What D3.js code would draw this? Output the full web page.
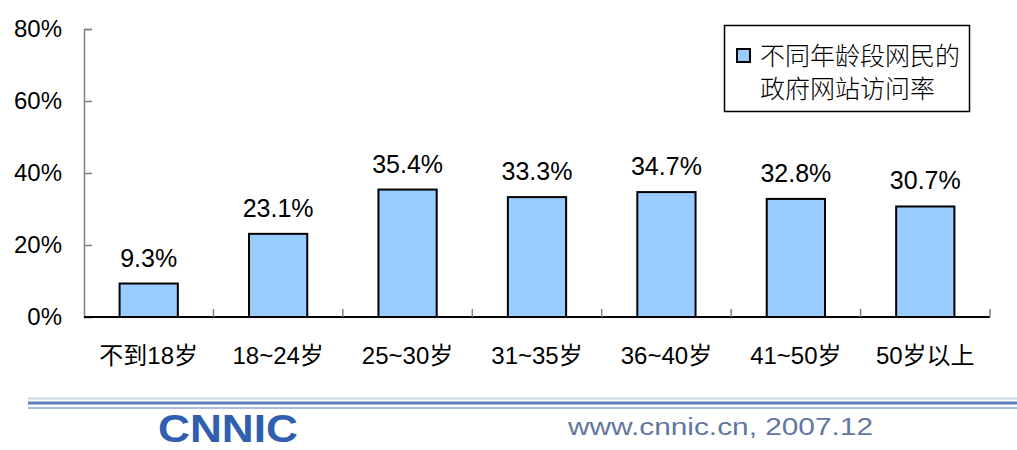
<!DOCTYPE html>
<html><head><meta charset="utf-8">
<script src="https://cdn.jsdelivr.net/npm/d3@7"></script>
<style>
html,body{margin:0;padding:0;background:#fff;}
svg{display:block;}
text{font-family:"Liberation Sans","Noto Sans CJK SC",Arial,sans-serif;fill:#000;}
</style></head>
<body>
<svg id="chart" width="1017" height="450"></svg>
<script>
const categories = ["不到18岁","18~24岁","25~30岁","31~35岁","36~40岁","41~50岁","50岁以上"];
const values = [9.3, 23.1, 35.4, 33.3, 34.7, 32.8, 30.7];
const yTicks = [0, 20, 40, 60, 80];
const legendLines = ["不同年龄段网民的","政府网站访问率"];
const footerText = "www.cnnic.cn,  2007.12";
const logoText = "CNNIC";

const svg = d3.select("#chart");
const x0 = 84, x1 = 990, yTop = 29, yBot = 317;

const x = d3.scaleBand().domain(categories).range([x0, x1]).paddingInner(0.55).paddingOuter(0.275);
const y = d3.scaleLinear().domain([0, 80]).range([yBot, yTop]);

// y axis
const yAxis = d3.axisLeft(y).tickValues(yTicks).tickSize(-8).tickPadding(22).tickFormat(d => d + "%");
const gy = svg.append("g").attr("transform", `translate(${x0},0)`).call(yAxis);
gy.select(".domain").attr("stroke", "#808080").attr("stroke-width", 1.5);
gy.selectAll(".tick line").attr("stroke", "#808080").attr("stroke-width", 1.5);
gy.selectAll(".tick text").attr("font-size", 24).attr("font-family", "Liberation Sans, Arial, sans-serif").attr("fill", "#000");

// x axis baseline + ticks at category boundaries
const bounds = d3.range(categories.length + 1).map(i => x0 + i * x.step());
svg.append("line").attr("x1", x0).attr("x2", x1).attr("y1", yBot).attr("y2", yBot)
  .attr("stroke", "#000").attr("stroke-width", 2);
svg.selectAll(".xtick").data(bounds.slice(1)).enter().append("line")
  .attr("x1", d => d).attr("x2", d => d).attr("y1", yBot).attr("y2", yBot - 8)
  .attr("stroke", "#808080").attr("stroke-width", 1.5);

svg.selectAll(".xlab").data(categories).enter().append("text")
  .attr("x", d => x(d) + x.bandwidth() / 2).attr("y", 364)
  .attr("text-anchor", "middle").attr("font-size", 24).text(d => d);

// bars
svg.selectAll(".bar").data(values).enter().append("rect")
  .attr("x", (d, i) => x(categories[i])).attr("width", x.bandwidth())
  .attr("y", d => y(d)).attr("height", d => yBot - y(d))
  .attr("fill", "#99ccff").attr("stroke", "#000").attr("stroke-width", 2);

svg.selectAll(".vlab").data(values).enter().append("text")
  .attr("x", (d, i) => x(categories[i]) + x.bandwidth() / 2)
  .attr("y", d => y(d) - 17)
  .attr("text-anchor", "middle").attr("font-size", 25)
  .text(d => d.toFixed(1) + "%");

// legend
const lg = svg.append("g");
lg.append("rect").attr("x", 724.5).attr("y", 25.5).attr("width", 245).attr("height", 86)
  .attr("fill", "#fff").attr("stroke", "#000").attr("stroke-width", 1.5);
lg.append("rect").attr("x", 737).attr("y", 49).attr("width", 13).attr("height", 13)
  .attr("fill", "#99ccff").attr("stroke", "#000").attr("stroke-width", 2);
lg.selectAll(".lt").data(legendLines).enter().append("text")
  .attr("x", 760).attr("y", (d, i) => 65 + i * 33)
  .attr("font-size", 25).attr("font-family", "Noto Sans CJK SC, sans-serif")
  .attr("font-weight", 300).text(d => d);

// footer
const ft = svg.append("g");
ft.append("line").attr("x1", 28).attr("x2", 1017).attr("y1", 398.5).attr("y2", 398.5).attr("stroke", "#c8d5ea").attr("stroke-width", 2);
ft.append("line").attr("x1", 28).attr("x2", 1017).attr("y1", 403).attr("y2", 403).attr("stroke", "#5f80bd").attr("stroke-width", 3);
ft.append("line").attr("x1", 28).attr("x2", 1017).attr("y1", 408).attr("y2", 408).attr("stroke", "#a9bcdc").attr("stroke-width", 2);

ft.append("text").attr("x", 158).attr("y", 442).attr("font-size", 38).attr("font-weight", "bold")
  .attr("textLength", 140).attr("lengthAdjust", "spacingAndGlyphs")
  .style("fill", "#2f5fae").text(logoText);
ft.append("text").attr("x", 568).attr("y", 435).attr("font-size", 23)
  .attr("textLength", 305).attr("lengthAdjust", "spacingAndGlyphs")
  .style("fill", "#62779f").text(footerText);
</script>
</body></html>
